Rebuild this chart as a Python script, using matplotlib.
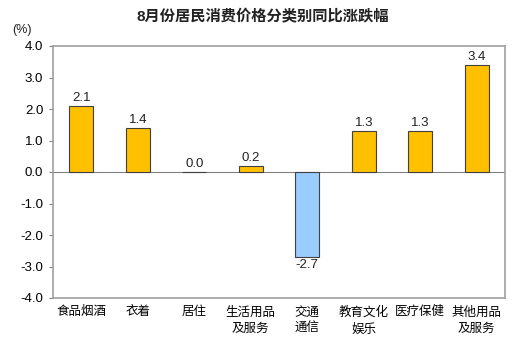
import matplotlib.pyplot as plt
import numpy as np

plt.rcParams['font.family'] = ['Liberation Sans', 'Noto Sans CJK SC', 'DejaVu Sans']

categories = ["食品烟酒", "衣着", "居住", "生活用品\n及服务", "交通\n通信",
              "教育文化\n娱乐", "医疗保健", "其他用品\n及服务"]
values = [2.1, 1.4, 0.0, 0.2, -2.7, 1.3, 1.3, 3.4]
yticks = [4.0, 3.0, 2.0, 1.0, 0.0, -1.0, -2.0, -3.0, -4.0]

fig = plt.figure(figsize=(5.3, 3.6), dpi=100)
ax = fig.add_axes([53 / 530, 62 / 360, 452 / 530, 252 / 360])

x = np.arange(len(categories))
colors = ["#FFC000" if v >= 0 else "#99CCFF" for v in values]
ax.bar(x, values, width=0.42, color=colors, edgecolor="#404040", linewidth=0.8, zorder=3)

for xi, v in zip(x, values):
    if v >= 0:
        ax.text(xi, v + 0.06, f"{v:.1f}", ha="center", va="bottom", fontsize=9.5, color="#222222")
    else:
        ax.text(xi, v - 0.06, f"{v:.1f}", ha="center", va="top", fontsize=9.5, color="#222222")

ax.axhline(0, color="#808080", linewidth=0.8, zorder=2)
ax.set_xlim(-0.5, len(categories) - 0.5)
ax.set_ylim(-4.0, 4.0)
ax.set_yticks(yticks)
ax.set_yticklabels([f"{t:.1f}" for t in yticks], fontsize=9.5)
ax.set_xticks(x)
ax.set_xticklabels(categories, fontsize=9, linespacing=1.5, va="top")
ax.tick_params(axis="x", length=0, pad=6)
ax.tick_params(axis="y", length=3, color="#808080", pad=4)
for s in ax.spines.values():
    s.set_color("#A0A0A0")
    s.set_linewidth(1.2)

fig.text(263 / 530, 1 - 17 / 360, "8月份居民消费价格分类别同比涨跌幅", ha="center", va="center",
         fontsize=11, fontweight="bold", color="#222222")
fig.text(22 / 530, 1 - 30 / 360, "(%)", ha="center", va="center", fontsize=9, color="#222222")

fig.savefig("out.png", dpi=100)
